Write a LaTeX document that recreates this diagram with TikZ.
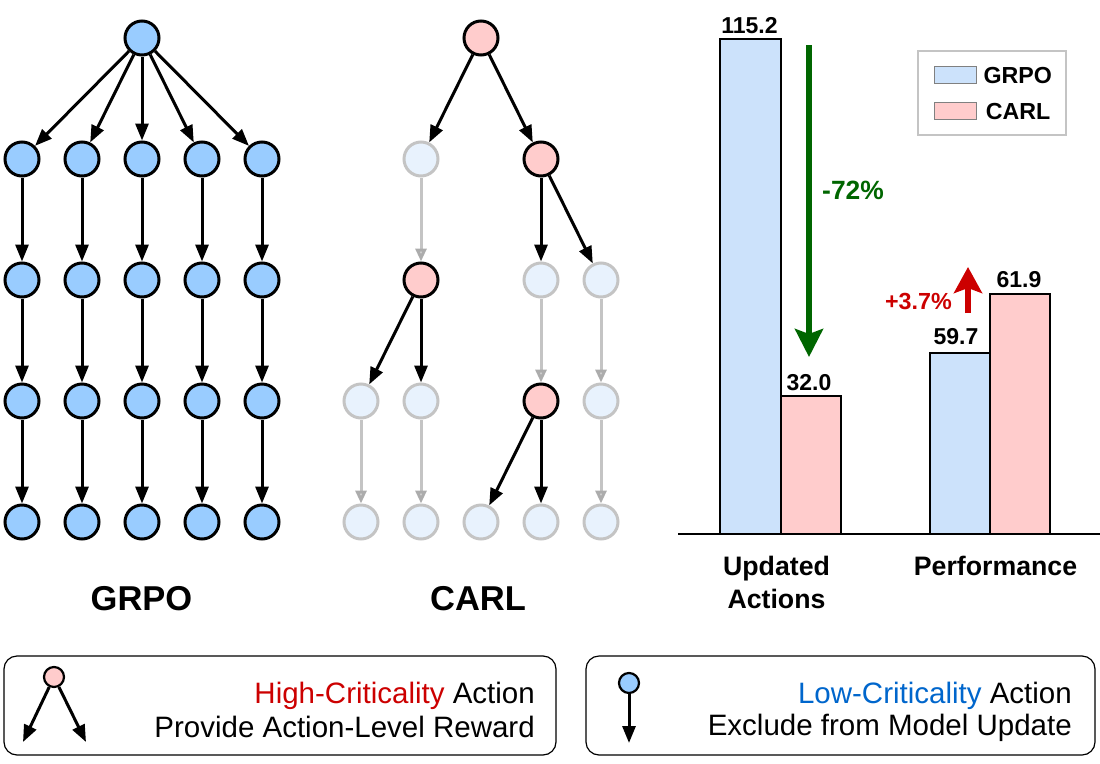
\documentclass[tikz,border=0pt]{standalone}
\usepackage{fontspec}
\setmainfont{Liberation Sans}
\usetikzlibrary{arrows.meta}
\definecolor{lowblue}{HTML}{99CCFF}
\definecolor{highpink}{HTML}{FFCCCC}
\definecolor{fadefill}{HTML}{E8F2FD}
\definecolor{fadeline}{HTML}{C4C4C4}
\definecolor{barblue}{HTML}{CCE2FB}
\definecolor{downgreen}{HTML}{006600}
\definecolor{upred}{HTML}{CC0000}
\definecolor{textblue}{HTML}{0066CC}
\tikzset{
	act/.style={circle, draw, line width=3pt, minimum size=34pt, inner sep=0pt},
	low/.style={act, fill=lowblue},
	high/.style={act, fill=highpink},
	faded/.style={act, draw=fadeline, fill=fadefill},
	keynode/.style={minimum size=20pt, line width=2.2pt},
	upd/.style={line width=3pt, -{Triangle[length=17pt,width=13pt]}},
	skip/.style={line width=3pt, draw=fadeline, -{Triangle[length=13pt,width=11pt,color=gray!65,fill=fadeline!70]}},
	bar/.style={draw, line width=2.8pt},
	title/.style={font=\bfseries\fontsize{34.5}{40}\selectfont},
	axislabel/.style={font=\bfseries\fontsize{26.7}{33}\selectfont, align=center},
	value/.style={font=\bfseries\fontsize{23}{27}\selectfont, anchor=base, inner sep=0pt},
	keytext/.style={font=\fontsize{29.5}{35}\selectfont, anchor=base east, inner sep=0pt}
}

\begin{document}
\begin{tikzpicture}[x=1pt, y=-1pt]
	\useasboundingbox (0,0) rectangle (1100,763);

	% ==========================================
	% GRPO: every action is updated
	% ==========================================
	\node[low] (g0) at (142,38) {};
	\foreach \c/\x in {1/22,2/82,3/142,4/202,5/262} {
		\foreach \r/\y in {2/159,3/280,4/401,5/522} \node[low] (g\c\r) at (\x,\y) {};
		\draw[upd] (g0) -- (g\c2);
		\foreach \r/\s in {2/3,3/4,4/5} \draw[upd] (g\c\r) -- (g\c\s);
	}
	\node[title, anchor=base] (grpolabel) at (141.5,610) {GRPO};

	% ==========================================
	% CARL: only high-criticality actions branch
	% ==========================================
	\node[high] (c13) at (481,38) {};
	\node[faded] (c22) at (421,159) {};
	\node[high] (c24) at (541,159) {};
	\node[high] (c32) at (421,280) {};
	\node[faded] (c34) at (541,280) {};
	\node[faded] (c35) at (601,280) {};
	\node[faded] (c41) at (361,401) {};
	\node[faded] (c42) at (421,401) {};
	\node[high] (c44) at (541,401) {}; % second critical step
	\node[faded] (c45) at (601,401) {};
	\foreach \c/\x in {1/361,2/421,3/481,4/541,5/601} \node[faded] (c5\c) at (\x,522) {};

	\draw[upd] (c13) -- (c22);
	\draw[upd] (c13) -- (c24);
	\draw[upd] (c24) -- (c34);
	\draw[upd] (c24) -- (c35);
	\draw[upd] (c32) -- (c41);
	\draw[upd] (c32) -- (c42);
	\draw[upd] (c44) -- (c53);
	\draw[upd] (c44) -- (c54);
	\draw[skip] (c22) -- (c32);
	\draw[skip] (c34) -- (c44);
	\draw[skip] (c35) -- (c45);
	\draw[skip] (c41) -- (c51);
	\draw[skip] (c42) -- (c52);
	\draw[skip] (c45) -- (c55);
	\node[title, anchor=base] (carllabel) at (478,610) {CARL};

	% ==========================================
	% Bar chart
	% ==========================================
	\draw[bar, fill=barblue] (720,534) rectangle (781,39);
	\draw[bar, fill=highpink] (781,534) rectangle (841,396);
	\draw[bar, fill=barblue] (930,534) rectangle (990,353);
	\draw[bar, fill=highpink] (990,534) rectangle (1050,294);
	\draw[line width=2.4pt] (678,534) -- (1100,534);

	\node[value] (v1) at (749.5,33) {115.2};
	\node[value] (v2) at (809,390) {32.0};
	\node[value] (v3) at (956,344) {59.7};
	\node[value] (v4) at (1019,287) {61.9};

	\node[axislabel, anchor=base] (updlabel) at (776.5,608) {Updated\\Actions};
	\node[axislabel, anchor=base] (perflabel) at (995.5,575) {Performance};

	% change arrows
	\coordinate (dtop) at (809,45);
	\coordinate (dtip) at (809,357);
	\draw[downgreen, line width=5.5pt, -{Stealth[length=28pt,width=28pt,inset=5pt]}] (dtop) -- (dtip);
	\node[font=\bfseries\fontsize{26.4}{30}\selectfont, text=downgreen, anchor=base west, inner sep=0pt] (drop) at (822,199) {-72\%};

	\coordinate (ubot) at (968,313);
	\coordinate (utip) at (968,267);
	\draw[upred, line width=5.5pt, -{Stealth[length=26pt,width=28pt,inset=5pt]}] (ubot) -- (utip);
	\node[font=\bfseries\fontsize{23.3}{28}\selectfont, text=upred, anchor=base east, inner sep=0pt] (gain) at (952,309) {+3.7\%};

	% legend
	\draw[fadeline, line width=1.5pt] (918,51) rectangle (1066,135);
	\node[draw=gray, line width=1pt, fill=barblue, minimum width=42pt, minimum height=17pt, inner sep=0pt] (lgrpo) at (955,74.5) {};
	\node[draw=gray, line width=1pt, fill=highpink, minimum width=42pt, minimum height=17pt, inner sep=0pt] (lcarl) at (955,111) {};
	\node[value, font=\bfseries\fontsize{23.2}{27}\selectfont, anchor=base west] (tgrpo) at (983.3,83.3) {GRPO};
	\node[value, font=\bfseries\fontsize{23.2}{27}\selectfont, anchor=base west] (tcarl) at (985.7,119.3) {CARL};

	% ==========================================
	% Key boxes
	% ==========================================
	\draw[line width=1.2pt, rounded corners=13pt] (4,656) rectangle (556,755);
	\node[high, keynode] (khigh) at (54,677) {};
	\coordinate (kleft) at (23,742);
	\coordinate (kright) at (86,742);
	\draw[upd] (khigh) -- (kleft);
	\draw[upd] (khigh) -- (kright);
	\node[keytext] (khigh1) at (535,703) {\textcolor{upred}{High-Criticality} Action};
	\node[keytext] (khigh2) at (535,737) {Provide Action-Level Reward};

	\draw[line width=1.2pt, rounded corners=13pt] (586,656) rectangle (1095,755);
	\node[low, keynode] (klow) at (629,683) {};
	\coordinate (kdown) at (629,743);
	\draw[upd] (klow) -- (kdown);
	\node[keytext] (klow1) at (1072,703) {\textcolor{textblue}{Low-Criticality} Action};
	\node[keytext] (klow2) at (1072,735) {Exclude from Model Update};
\end{tikzpicture}
\end{document}
